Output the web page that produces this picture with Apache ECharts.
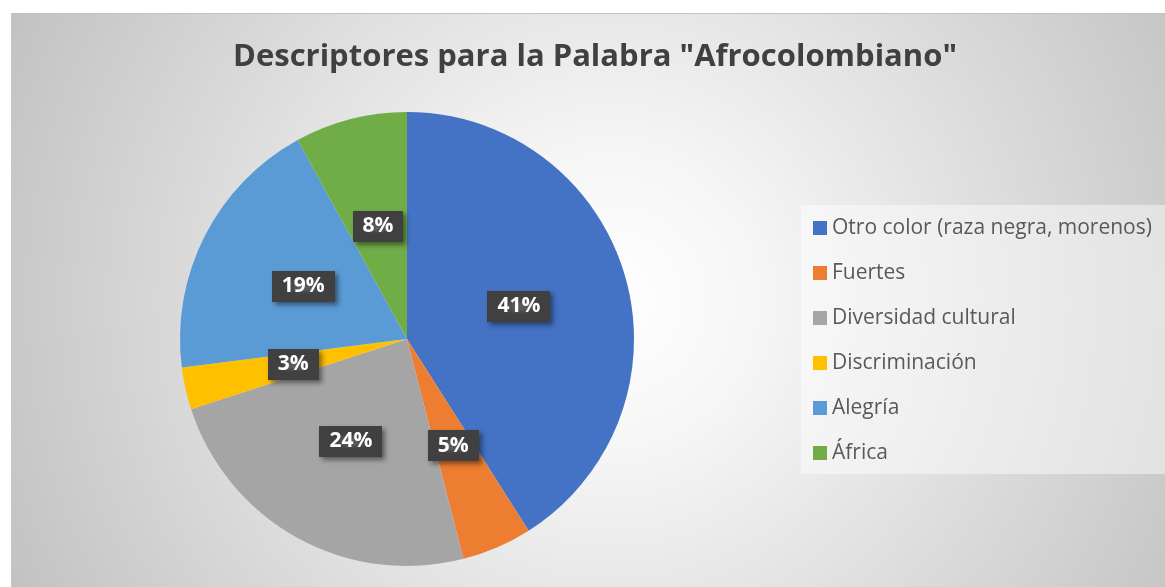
<!DOCTYPE html>
<html>
<head>
<meta charset="utf-8">
<script src="https://cdn.jsdelivr.net/npm/echarts@6/dist/echarts.min.js"></script>
<style>
html,body{margin:0;padding:0;background:#ffffff;width:1165px;height:587px;overflow:hidden;}
#wrap{position:absolute;left:11px;top:13px;width:1154px;height:574px;
 border-top:1px solid #c2c2c2;border-left:1px solid #c8c8c8;box-sizing:border-box;
 background:radial-gradient(circle farthest-corner at 52% 50%, #ffffff 0%, #f6f6f6 22%, #c2c2c2 100%);}
#chart{width:100%;height:100%;}
</style>
</head>
<body>
<div id="wrap"><div id="chart"></div></div>
<script>
const titleText = 'Descriptores para la Palabra "Afrocolombiano"';
const categories = ['Otro color (raza negra, morenos)', 'Fuertes', 'Diversidad cultural', 'Discriminación', 'Alegría', 'África'];
const values = [41, 5, 24, 3, 19, 8];
const colors = ['#4472C4', '#ED7D31', '#A5A5A5', '#FFC000', '#5B9BD5', '#70AD47'];

// dotted pattern for label boxes
const pat = document.createElement('canvas');
pat.width = 6; pat.height = 6;
const pc = pat.getContext('2d');
pc.fillStyle = '#404040'; pc.fillRect(0, 0, 6, 6);
pc.fillStyle = '#5a5a5a'; pc.fillRect(2, 2, 2, 2);

const chart = echarts.init(document.getElementById('chart'), null, {renderer: 'canvas'});
chart.setOption({
  backgroundColor: 'transparent',
  animation: false,
  title: {
    text: titleText,
    left: 578,
    textAlign: 'center',
    top: 23,
    textStyle: {fontFamily: 'Open Sans', fontWeight: 'bold', fontSize: 31, color: '#404040'}
  },
  legend: {
    orient: 'vertical',
    left: 789,
    top: 191,
    padding: [12, 13, 10, 12],
    backgroundColor: 'rgba(255,255,255,0.45)',
    itemWidth: 14,
    itemHeight: 14,
    itemGap: 23,
    icon: 'rect',
    textStyle: {fontFamily: 'Open Sans', fontSize: 21, color: '#595959', lineHeight: 22},
    data: categories
  },
  series: [{
    type: 'pie',
    center: [395, 325],
    radius: [0, 227],
    startAngle: 90,
    clockwise: true,
    avoidLabelOverlap: false,
    color: colors,
    itemStyle: {borderWidth: 0},
    emphasis: {disabled: true},
    label: {
      show: true,
      position: 'inside',
      formatter: '{c}%',
      fontFamily: 'Open Sans',
      fontWeight: 'bold',
      fontSize: 21,
      color: '#ffffff',
      backgroundColor: {image: pat, repeat: 'repeat'},
      padding: [6, 10, 4, 10],
      shadowColor: 'rgba(0,0,0,0.45)',
      shadowBlur: 5,
      shadowOffsetX: 3,
      shadowOffsetY: 3
    },
    labelLine: {show: false},
    data: categories.map((c, i) => ({name: c, value: values[i]}))
  }]
});
</script>
</body>
</html>
